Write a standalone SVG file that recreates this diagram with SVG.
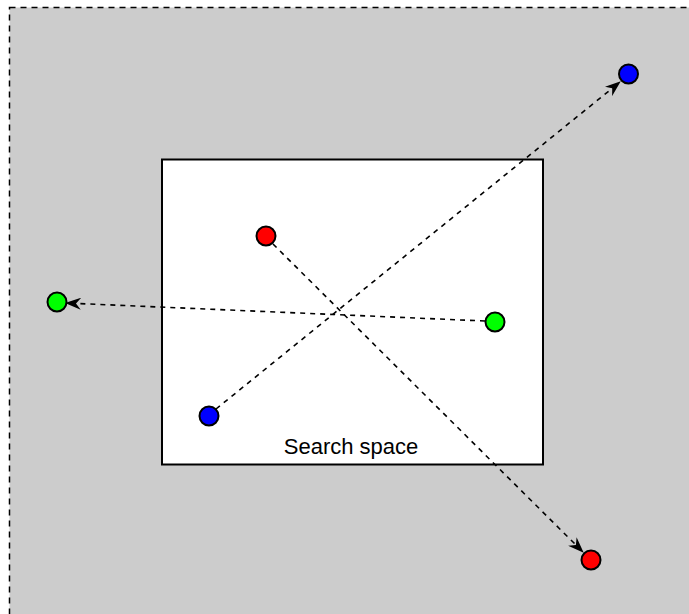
<svg xmlns="http://www.w3.org/2000/svg" width="689" height="614" viewBox="0 0 689 614">
<defs>
<style>
.dot{stroke:#000;stroke-width:2}
.edge{fill:none;stroke:#000;stroke-width:1.6;stroke-dasharray:5 5}
.lbl{font-family:"Liberation Sans",Arial,sans-serif;font-size:22px;fill:#000}
</style>
<marker id="arr" viewBox="0 0 16 12" refX="15" refY="6" markerWidth="16" markerHeight="12" markerUnits="userSpaceOnUse" orient="auto">
<path d="M0,0 L16,6 L0,12 L5,6 Z" fill="#000"/>
</marker>
</defs>
<g id="background">
<rect x="9.5" y="7.5" width="690" height="620" fill="#cccccc" stroke="#000" stroke-width="1.5" stroke-dasharray="6 5"/>
</g>
<g id="search-space">
<rect x="162" y="159.5" width="381" height="305" fill="#ffffff" stroke="#000" stroke-width="2"/>
<text class="lbl" x="351" y="454" text-anchor="middle">Search space</text>
</g>
<g id="connectors">
<line class="edge" x1="216" y1="409" x2="620" y2="82" marker-end="url(#arr)"/>
<line class="edge" x1="485" y1="321" x2="66" y2="303" marker-end="url(#arr)"/>
<line class="edge" x1="273" y1="244" x2="583" y2="552" marker-end="url(#arr)"/>
</g>
<g id="blue-top"><circle class="dot" cx="628.5" cy="74" r="9.5" fill="#0000ff"/></g>
<g id="red-inner"><circle class="dot" cx="266" cy="236" r="9.5" fill="#ff0000"/></g>
<g id="green-left"><circle class="dot" cx="57" cy="302" r="9.5" fill="#00ff00"/></g>
<g id="green-right"><circle class="dot" cx="495" cy="322" r="9.5" fill="#00ff00"/></g>
<g id="blue-bottom"><circle class="dot" cx="209" cy="416" r="9.5" fill="#0000ff"/></g>
<g id="red-bottom"><circle class="dot" cx="591" cy="560" r="9.5" fill="#ff0000"/></g>
</svg>
